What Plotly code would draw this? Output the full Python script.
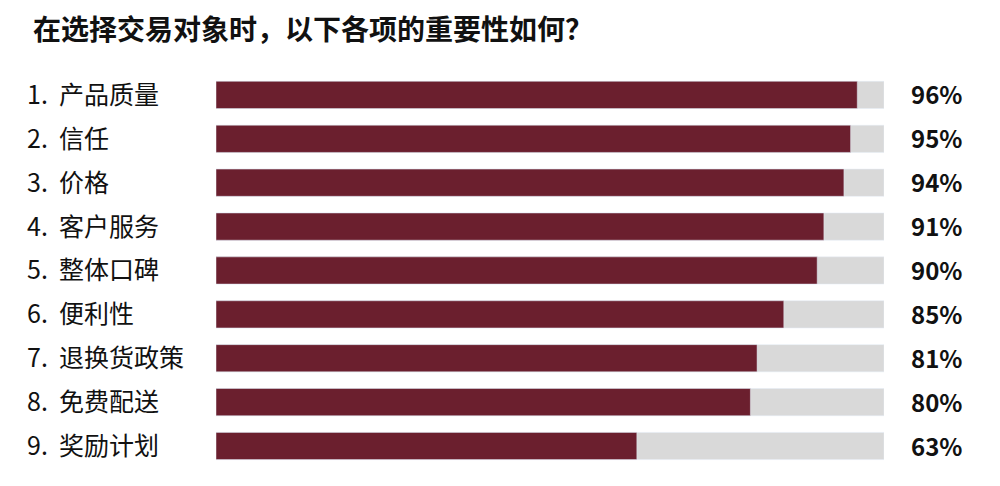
import plotly.graph_objects as go

categories = ["1.  产品质量", "2.  信任", "3.  价格", "4.  客户服务", "5.  整体口碑",
              "6.  便利性", "7.  退换货政策", "8.  免费配送", "9.  奖励计划"]
values = [96, 95, 94, 91, 90, 85, 81, 80, 63]
full = [100] * len(values)

FONT = "Noto Sans CJK SC"
MAROON = "#6b1f2e"
GREY = "#d9d9d9"

fig = go.Figure()
fig.add_trace(go.Bar(y=categories, x=full, orientation="h", marker_color=GREY,
                     width=0.62, hoverinfo="skip"))
fig.add_trace(go.Bar(y=categories, x=values, orientation="h", marker_color=MAROON,
                     width=0.62))

# left labels and right percentages
for cat, v in zip(categories, values):
    fig.add_annotation(x=-0.286, xref="paper", y=cat, yref="y", text=cat,
                       xanchor="left", showarrow=False, yshift=2,
                       font=dict(family=FONT, size=25, color="#111"))
    fig.add_annotation(x=1.12, xref="paper", y=cat, yref="y", text=f"<b>{v}%</b>",
                       xanchor="right", showarrow=False, yshift=1,
                       font=dict(family=FONT, size=24, color="#111"))

fig.update_layout(
    width=1000, height=486,
    barmode="overlay",
    showlegend=False,
    plot_bgcolor="white", paper_bgcolor="white",
    margin=dict(l=208, r=124, t=65, b=26),
    title=dict(text="<b>在选择交易对象时，以下各项的重要性如何？</b>",
               x=0.025, xanchor="left", y=0.955, yanchor="middle",
               yref="container", font=dict(family=FONT, size=28, color="#111")),
    xaxis=dict(range=[0, 100], visible=False),
    yaxis=dict(autorange="reversed", visible=False),
)

fig.write_html("out.html")
